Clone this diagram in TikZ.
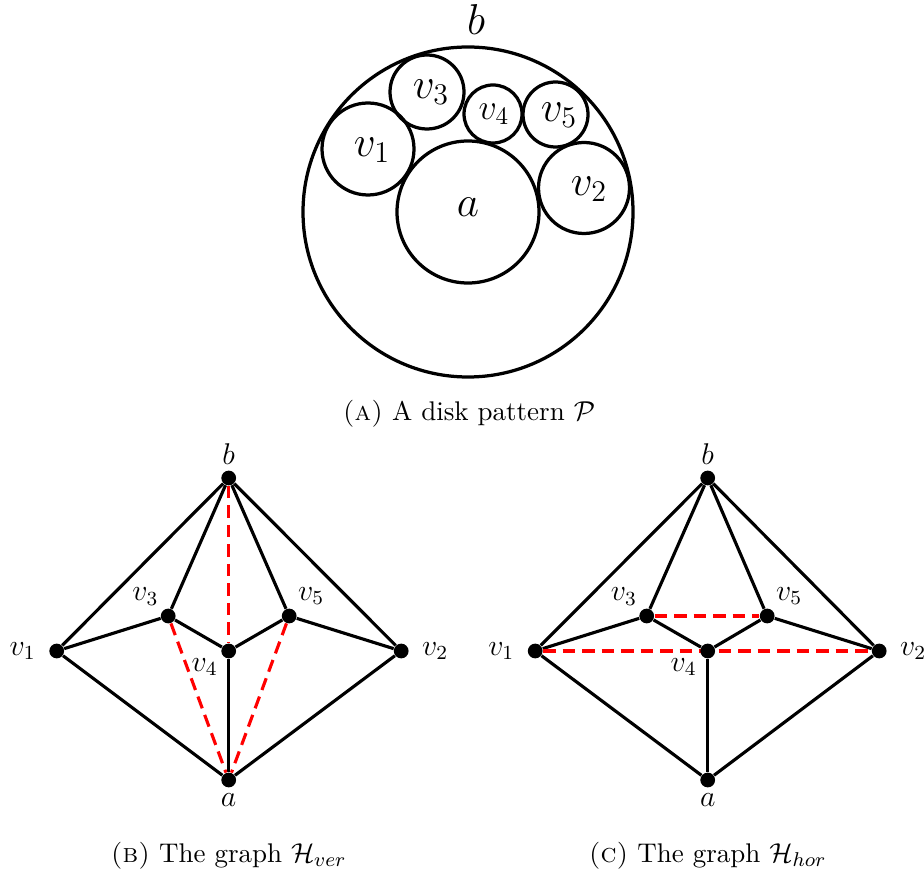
\documentclass[tikz,border=0pt]{standalone}
\usepackage{amsmath, amssymb}
\usepackage{tikz}
\usetikzlibrary{backgrounds}

\begin{document}
\begin{tikzpicture}[
    x=0.4pt, y=-0.4pt,
    disk/.style   ={draw=black, line width=1.3pt},
    disklbl/.style={font=\LARGE, inner sep=0pt},
    vtx/.style    ={circle, fill=black, inner sep=0pt, minimum size=5.9pt},
    vlbl/.style   ={font=\large, inner sep=1pt},
    edge/.style   ={draw=black, line width=1.25pt},
    extra/.style  ={draw=red, line width=1.25pt,
                    dash pattern=on 5pt off 2.8pt},
    caption/.style={anchor=base, font=\fontsize{10.8}{13}\selectfont, inner sep=0pt},
  ]
  \useasboundingbox (0,0) rectangle (924,871);

  %% --- (a) disk pattern --------------------------------------------------
  \draw[disk] (468,212) circle[radius=165];
  \draw[disk] (468,212) circle[radius=71];
  \draw[disk] (368,149) circle[radius=46];
  \draw[disk] (427,92)  circle[radius=37];
  \draw[disk] (493,114) circle[radius=29];
  \draw[disk] (555.5,114.5) circle[radius=32.5];
  \draw[disk] (584,188) circle[radius=45.5];

  \node[disklbl] (db)  at (476,20)  {$b$};
  \node[disklbl] (da)  at (468,207) {$a$};
  \node[disklbl] (dv1) at (372,150) {$v_1$};
  \node[disklbl] (dv3) at (431,92)  {$v_3$};
  \node[disklbl, font=\Large] (dv4) at (494,114) {$v_4$};
  \node[disklbl] (dv5) at (559,115) {$v_5$};
  \node[disklbl] (dv2) at (589,189) {$v_2$};

  \node[caption] (cap-a) at (469,420) {\textsc{(a)} A disk pattern $\mathcal{P}$};

  %% --- column x-positions and row y-positions ----------------------------
  \def\xV{228.7}   % graph H_ver
  \def\xH{707.7}   % graph H_hor
  \def\yB{478}     % b
  \def\yU{616}     % v3, v5
  \def\yM{651}     % v1, v4, v2
  \def\yA{780}     % a

  %% --- (b) the graph H_ver -----------------------------------------------
  \node[vtx, label={[vlbl, label distance=1pt]above:$b$}]   (b-ver)  at (\xV,\yB) {};
  \node[vtx, label={[vlbl, label distance=4pt]left:$v_1$}]  (v1-ver) at (\xV-172,\yM) {};
  \node[vtx, label={[vlbl, label distance=4pt]right:$v_2$}] (v2-ver) at (\xV+172.5,\yM) {};
  \node[vtx, label={[vlbl, label distance=1pt]130:$v_3$}]   (v3-ver) at (\xV-60.5,\yU) {};
  \node[vtx, label={[vlbl, label distance=0.5pt]210:$v_4$}] (v4-ver) at (\xV,\yM) {};
  \node[vtx, label={[vlbl, label distance=1pt]55:$v_5$}]    (v5-ver) at (\xV+60.5,\yU) {};
  \node[vtx, label={[vlbl, label distance=1pt]below:$a$}]   (a-ver)  at (\xV,\yA) {};

  \begin{scope}[on background layer]
    \draw[edge] (b-ver) -- (v1-ver);
    \draw[edge] (b-ver) -- (v3-ver);
    \draw[edge] (b-ver) -- (v5-ver);
    \draw[edge] (b-ver) -- (v2-ver);
    \draw[edge] (v1-ver) -- (v3-ver);
    \draw[edge] (v3-ver) -- (v4-ver);
    \draw[edge] (v4-ver) -- (v5-ver);
    \draw[edge] (v5-ver) -- (v2-ver);
    \draw[edge] (v1-ver) -- (a-ver);
    \draw[edge] (v4-ver) -- (a-ver);
    \draw[edge] (v2-ver) -- (a-ver);
    % vertical extra edges
    \draw[extra] (b-ver) -- (v4-ver);
    \draw[extra] (v3-ver) -- (a-ver);
    \draw[extra] (v5-ver) -- (a-ver);
  \end{scope}

  \node[caption] (cap-b) at (\xV,862) {\textsc{(b)} The graph $\mathcal{H}_{ver}$};

  %% --- (c) the graph H_hor -----------------------------------------------
  \node[vtx, label={[vlbl, label distance=1pt]above:$b$}]   (b-hor)  at (\xH,\yB) {};
  \node[vtx, label={[vlbl, label distance=4pt]left:$v_1$}]  (v1-hor) at (\xH-172.5,\yM) {};
  \node[vtx, label={[vlbl, label distance=4pt]right:$v_2$}] (v2-hor) at (\xH+171.5,\yM) {};
  \node[vtx, label={[vlbl, label distance=1pt]130:$v_3$}]   (v3-hor) at (\xH-61,\yU) {};
  \node[vtx, label={[vlbl, label distance=0.5pt]210:$v_4$}] (v4-hor) at (\xH,\yM) {};
  \node[vtx, label={[vlbl, label distance=1pt]55:$v_5$}]    (v5-hor) at (\xH+59.5,\yU) {};
  \node[vtx, label={[vlbl, label distance=1pt]below:$a$}]   (a-hor)  at (\xH,\yA) {};

  \begin{scope}[on background layer]
    \draw[edge] (b-hor) -- (v1-hor);
    \draw[edge] (b-hor) -- (v3-hor);
    \draw[edge] (b-hor) -- (v5-hor);
    \draw[edge] (b-hor) -- (v2-hor);
    \draw[edge] (v1-hor) -- (v3-hor);
    \draw[edge] (v3-hor) -- (v4-hor);
    \draw[edge] (v4-hor) -- (v5-hor);
    \draw[edge] (v5-hor) -- (v2-hor);
    \draw[edge] (v1-hor) -- (a-hor);
    \draw[edge] (v4-hor) -- (a-hor);
    \draw[edge] (v2-hor) -- (a-hor);
    % horizontal extra edges
    \draw[extra] (v3-hor) -- (v5-hor);
    \draw[extra] (v1-hor) -- (v2-hor);
  \end{scope}

  \node[caption] (cap-c) at (\xH,862) {\textsc{(c)} The graph $\mathcal{H}_{hor}$};

\end{tikzpicture}
\end{document}
